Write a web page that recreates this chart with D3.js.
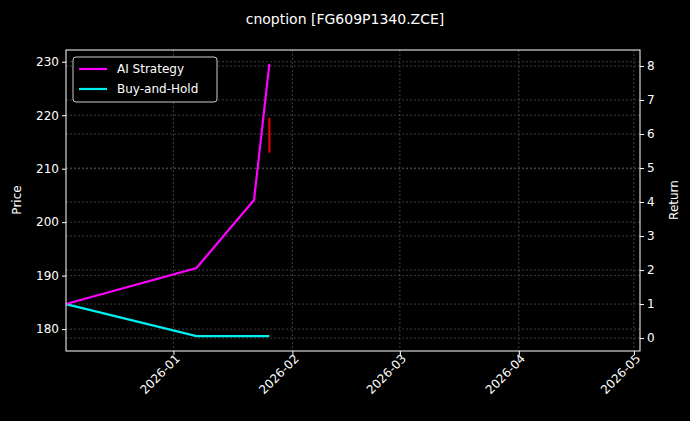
<!DOCTYPE html><html><head><meta charset="utf-8"><script src="https://cdn.jsdelivr.net/npm/d3@7"></script>
<style>body{margin:0;background:#000}text{font-family:"DejaVu Sans",sans-serif}</style></head><body><svg id="c" width="690" height="421"></svg>
<script>
const aiDates=["2025-12-04","2026-01-07","2026-01-22","2026-01-26"];
const aiValues=[1.0,2.06,4.06,8.06];
const bhDates=["2025-12-04","2026-01-07","2026-01-26"];
const bhValues=[1.0,0.06,0.06];
const priceDates=["2026-01-26","2026-01-26"];
const priceValues=[213,219.5];
const priceTicks=[180,190,200,210,220,230];
const returnTicks=[0,1,2,3,4,5,6,7,8];
const monthTicks=["2026-01-01","2026-02-01","2026-03-01","2026-04-01","2026-05-01"];
const P=d3.timeParse("%Y-%m-%d");
const svg=d3.select("#c"),L=66,R=640,T=50,B=351;
svg.append("rect").attr("width",690).attr("height",421).attr("fill","#000");
const x=d3.scaleTime().domain([P("2025-12-04"),new Date(2026,4,2,14)]).range([L,R]);
const yl=d3.scaleLinear().domain([175.9,232.2]).range([B,T]);
const yr=d3.scaleLinear().domain([-0.38,8.47]).range([B,T]);
const g=svg.append("g");
const grid=(x1,y1,x2,y2)=>g.append("line").attr("x1",x1).attr("y1",y1).attr("x2",x2).attr("y2",y2).attr("stroke","#666").attr("stroke-width",0.6).attr("stroke-dasharray","2,2");
priceTicks.forEach(t=>grid(L,yl(t),R,yl(t)));
returnTicks.forEach(t=>grid(L,yr(t),R,yr(t)));
monthTicks.forEach(t=>grid(x(P(t)),T,x(P(t)),B));
const line=(ds,vs,ys,c)=>svg.append("path").datum(ds.map((d,i)=>[P(d),vs[i]])).attr("fill","none").attr("stroke",c).attr("stroke-width",2.2).attr("d",d3.line().x(d=>x(d[0])).y(d=>ys(d[1])));
line(priceDates,priceValues,yl,"#e00000");
line(bhDates,bhValues,yr,"#00f0f0");
line(aiDates,aiValues,yr,"#ff00ff");
svg.append("rect").attr("x",L).attr("y",T).attr("width",R-L).attr("height",B-T).attr("fill","none").attr("stroke","#fff");
const style=s=>{s.selectAll("path").remove();s.selectAll("line").attr("stroke","#fff");s.selectAll("text").attr("fill","#fff").style("font-size","12px");};
svg.append("g").attr("transform",`translate(${L},0)`).call(d3.axisLeft(yl).tickValues(priceTicks).tickSize(4)).call(style);
svg.append("g").attr("transform",`translate(${R},0)`).call(d3.axisRight(yr).tickValues(returnTicks).tickSize(4)).call(style);
const xa=svg.append("g").attr("transform",`translate(0,${B})`).call(d3.axisBottom(x).tickValues(monthTicks.map(P)).tickFormat(d3.timeFormat("%Y-%m")).tickSize(4)).call(style);
xa.selectAll("text").attr("text-anchor","end").attr("transform","rotate(-45)").attr("dx","-0.1em").attr("dy","0.3em");
svg.append("text").attr("x",345).attr("y",24).attr("text-anchor","middle").attr("fill","#fff").style("font-size","14px").text("cnoption [FG609P1340.ZCE]");
svg.append("text").attr("transform","translate(21,200) rotate(-90)").attr("text-anchor","middle").attr("fill","#fff").style("font-size","12px").text("Price");
svg.append("text").attr("transform","translate(678,200) rotate(-90)").attr("text-anchor","middle").attr("fill","#fff").style("font-size","12px").text("Return");
const lg=svg.append("g").attr("transform","translate(73,57)");
lg.append("rect").attr("width",144).attr("height",45).attr("rx",3).attr("fill","#000").attr("stroke","#ccc");
[["AI Strategy","#ff00ff"],["Buy-and-Hold","#00f0f0"]].forEach((d,i)=>{
lg.append("line").attr("x1",6).attr("x2",34).attr("y1",12+i*20).attr("y2",12+i*20).attr("stroke",d[1]).attr("stroke-width",2.2);
lg.append("text").attr("x",44).attr("y",16+i*20).attr("fill","#fff").style("font-size","12px").text(d[0]);});
</script></body></html>
